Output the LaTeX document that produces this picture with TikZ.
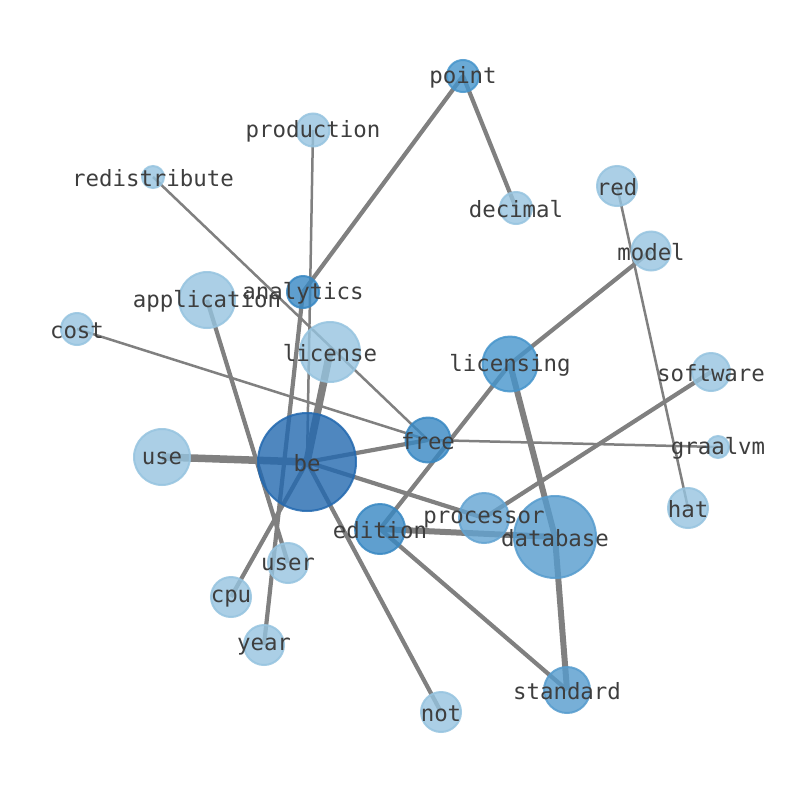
\documentclass[tikz,border=0pt]{standalone}
\usepackage{fontspec}
\setmonofont{DejaVu Sans Mono}
\definecolor{edgec}{RGB}{128,128,128}
\definecolor{lightc}{RGB}{150,196,224}
\definecolor{medc}{RGB}{70,149,204}
\definecolor{dbc}{RGB}{86,156,206}
\definecolor{darkmc}{RGB}{56,136,195}
\definecolor{bec}{RGB}{35,105,176}
\definecolor{labc}{RGB}{62,62,62}
\tikzset{
  thinedge/.style={draw=edgec, line width=2.5pt},
  midedge/.style={draw=edgec, line width=4.2pt},
  thickedge/.style={draw=edgec, line width=6pt},
  hugeedge/.style={draw=edgec, line width=7.5pt},
  bub/.style={circle, inner sep=0pt, fill opacity=0.8, draw opacity=0.85, line width=2pt},
  lt/.style={bub, fill=lightc, draw=lightc},
  md/.style={bub, fill=medc, draw=medc},
  db/.style={bub, fill=dbc, draw=dbc},
  dm/.style={bub, fill=darkmc, draw=darkmc},
  bn/.style={bub, fill=bec, draw=bec},
  lab/.style={text=labc, font=\ttfamily\fontsize{22.4}{25}\selectfont, inner sep=0pt, anchor=center, yshift=-1.5pt}
}
\begin{document}
\begin{tikzpicture}[x=1pt,y=-1pt]
\useasboundingbox[fill=white] (0,0) rectangle (794,790);
% positions
\coordinate (point) at (463,76);
\coordinate (production) at (313,130);
\coordinate (redistribute) at (153,177);
\coordinate (decimal) at (516,208);
\coordinate (red) at (617,186);
\coordinate (model) at (651,251);
\coordinate (application) at (207,300);
\coordinate (analytics) at (303,292);
\coordinate (cost) at (77,329);
\coordinate (license) at (330,352);
\coordinate (licensing) at (510,364);
\coordinate (software) at (711,372);
\coordinate (use) at (162,457);
\coordinate (be) at (307,462);
\coordinate (free) at (428,440);
\coordinate (graalvm) at (718,447);
\coordinate (processor) at (484,518);
\coordinate (edition) at (380,529);
\coordinate (database) at (555,537);
\coordinate (hat) at (688,508);
\coordinate (user) at (288,563);
\coordinate (cpu) at (231,597);
\coordinate (year) at (264,645);
\coordinate (standard) at (567,690);
\coordinate (not) at (441,712);
% edges
\draw[thinedge] (production) -- (be);
\draw[thinedge] (redistribute) -- (free);
\draw[thinedge] (cost) -- (free);
\draw[thinedge] (free) -- (graalvm);
\draw[thinedge] (red) -- (hat);
\draw[midedge] (point) -- (analytics);
\draw[midedge] (point) -- (decimal);
\draw[midedge] (model) -- (licensing);
\draw[midedge] (licensing) -- (edition);
\draw[midedge] (software) -- (processor);
\draw[midedge] (be) -- (processor);
\draw[midedge] (edition) -- (standard);
\draw[midedge] (be) -- (not);
\draw[midedge] (be) -- (free);
\draw[midedge] (application) -- (user);
\draw[midedge] (analytics) -- (year);
\draw[midedge] (cpu) -- (be);
\draw[thickedge] (edition) -- (database);
\draw[thickedge] (licensing) -- (database);
\draw[thickedge] (database) -- (standard);
\draw[hugeedge] (use) -- (be);
\draw[hugeedge] (license) -- (be);
% bubbles
\node[md, minimum size=32pt] (point-c) at (point) {};
\node[lt, minimum size=33pt] (production-c) at (production) {};
\node[lt, minimum size=22pt] (redistribute-c) at (redistribute) {};
\node[lt, minimum size=32pt] (decimal-c) at (decimal) {};
\node[lt, minimum size=40pt] (red-c) at (red) {};
\node[lt, minimum size=39pt] (model-c) at (model) {};
\node[lt, minimum size=56pt] (application-c) at (application) {};
\node[dm, minimum size=32pt] (analytics-c) at (analytics) {};
\node[lt, minimum size=32pt] (cost-c) at (cost) {};
\node[lt, minimum size=60pt] (license-c) at (license) {};
\node[md, minimum size=55pt] (licensing-c) at (licensing) {};
\node[lt, minimum size=38pt] (software-c) at (software) {};
\node[lt, minimum size=56pt] (use-c) at (use) {};
\node[bn, minimum size=98pt] (be-c) at (be) {};
\node[dm, minimum size=45pt] (free-c) at (free) {};
\node[lt, minimum size=22pt] (graalvm-c) at (graalvm) {};
\node[db, minimum size=50pt, fill=dbc!80!lightc, draw=dbc!80!lightc] (processor-c) at (processor) {};
\node[dm, minimum size=50pt] (edition-c) at (edition) {};
\node[db, minimum size=82pt] (database-c) at (database) {};
\node[lt, minimum size=40pt] (hat-c) at (hat) {};
\node[lt, minimum size=40pt] (user-c) at (user) {};
\node[lt, minimum size=40pt] (cpu-c) at (cpu) {};
\node[lt, minimum size=40pt] (year-c) at (year) {};
\node[db, minimum size=46pt] (standard-c) at (standard) {};
\node[lt, minimum size=40pt] (not-c) at (not) {};
% labels
\node[lab] (point-l) at (point) {point};
\node[lab] (production-l) at (production) {production};
\node[lab] (redistribute-l) at (redistribute) {redistribute};
\node[lab] (decimal-l) at (decimal) {decimal};
\node[lab] (red-l) at (red) {red};
\node[lab] (model-l) at (model) {model};
\node[lab] (application-l) at (application) {application};
\node[lab] (analytics-l) at (analytics) {analytics};
\node[lab] (cost-l) at (cost) {cost};
\node[lab] (license-l) at (license) {license};
\node[lab] (licensing-l) at (licensing) {licensing};
\node[lab] (software-l) at (software) {software};
\node[lab] (use-l) at (use) {use};
\node[lab] (be-l) at (be) {be};
\node[lab] (free-l) at (free) {free};
\node[lab] (graalvm-l) at (graalvm) {graalvm};
\node[lab] (processor-l) at (processor) {processor};
\node[lab] (edition-l) at (edition) {edition};
\node[lab] (database-l) at (database) {database};
\node[lab] (hat-l) at (hat) {hat};
\node[lab] (user-l) at (user) {user};
\node[lab] (cpu-l) at (cpu) {cpu};
\node[lab] (year-l) at (year) {year};
\node[lab] (standard-l) at (standard) {standard};
\node[lab] (not-l) at (not) {not};
\end{tikzpicture}
\end{document}
